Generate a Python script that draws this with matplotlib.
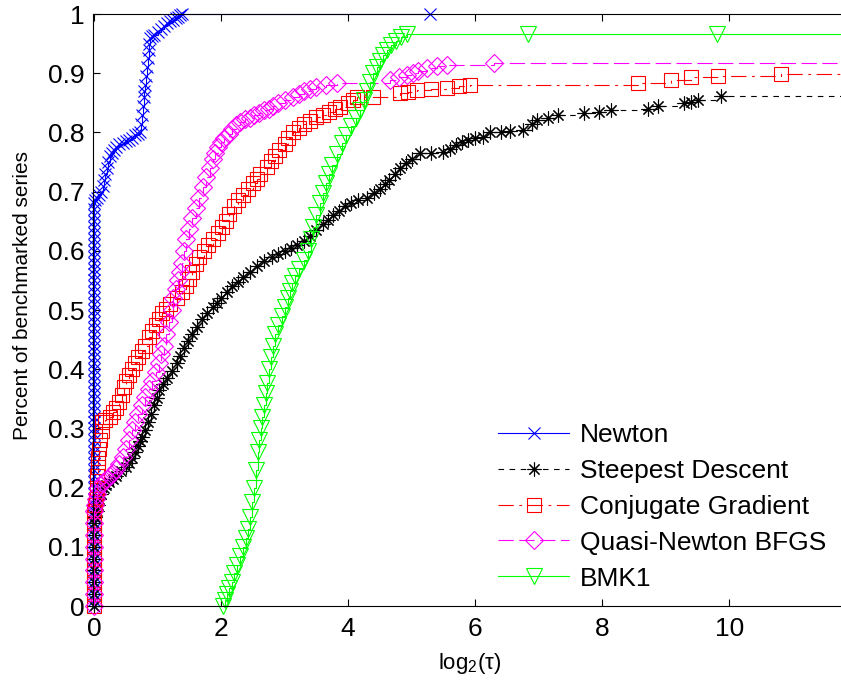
import matplotlib
matplotlib.use('Agg')
import matplotlib.pyplot as plt

plt.rcParams['font.family'] = 'Liberation Sans'
plt.rcParams['mathtext.fontset'] = 'custom'
plt.rcParams['mathtext.rm'] = 'Liberation Sans'
plt.rcParams['lines.scale_dashes'] = False

# ---- data (x = log2(tau), y = fraction) ----
newton_x = [0, 0, 0, 0, 0, 0, 0, 0, 0, 0, 0, 0, 0, 0, 0, 0, 0, 0, 0, 0, 0, 0, 0,
            0, 0, 0, 0, 0, 0, 0, 0, 0, 0, 0, 0, 0, 0, 0, 0, 0, 0, 0, 0, 0, 0, 0,
            0, 0, 0, 0, 0, 0, 0, 0, 0, 0, 0, 0, 0, 0, 0, 0, 0, 0, 0, 0, 0, 0, 0,
            0.02, 0.05, 0.08, 0.11, 0.14, 0.16, 0.18, 0.20, 0.22, 0.25, 0.28, 0.31, 0.35, 0.40,
            0.45, 0.50, 0.55, 0.60, 0.65, 0.69, 0.72, 0.74, 0.76, 0.77, 0.78, 0.79, 0.80, 0.82,
            0.83, 0.85, 0.86, 0.87, 0.88, 0.92, 0.95, 1.00, 1.05, 1.10, 1.15, 1.20, 1.25, 1.29,
            1.32, 1.36, 1.39, 5.29]
newton_y = [0.00, 0.01, 0.02, 0.03, 0.04, 0.05, 0.06, 0.07, 0.08, 0.09, 0.10, 0.11, 0.12,
            0.13, 0.14, 0.15, 0.16, 0.17, 0.18, 0.19, 0.20, 0.21, 0.22, 0.23, 0.24, 0.25, 0.26,
            0.27, 0.28, 0.29, 0.30, 0.31, 0.32, 0.33, 0.34, 0.35, 0.36, 0.37, 0.38, 0.39, 0.40,
            0.41, 0.42, 0.43, 0.44, 0.45, 0.46, 0.47, 0.48, 0.49, 0.50, 0.51, 0.52, 0.53, 0.54,
            0.55, 0.56, 0.57, 0.58, 0.59, 0.60, 0.61, 0.62, 0.63, 0.64, 0.65, 0.66, 0.67, 0.68,
            0.685, 0.69, 0.695, 0.70, 0.71, 0.72, 0.73, 0.74, 0.75, 0.76, 0.765, 0.77, 0.775, 0.78,
            0.782, 0.785, 0.788, 0.79, 0.795, 0.798, 0.80, 0.815, 0.83, 0.845, 0.86, 0.87, 0.88, 0.895,
            0.91, 0.925, 0.94, 0.95, 0.96, 0.962, 0.965, 0.97, 0.975, 0.98, 0.985, 0.988, 0.99, 0.993,
            0.995, 0.998, 1.0, 1.0]

steep_x = [0, 0, 0, 0, 0, 0, 0, 0,
           0.02, 0.04, 0.06, 0.08, 0.11, 0.15, 0.19, 0.24, 0.30, 0.35, 0.42, 0.50, 0.55, 0.60,
           0.65, 0.70, 0.73, 0.76, 0.80, 0.85, 0.90, 0.95, 0.99, 1.03, 1.09, 1.15, 1.22, 1.30,
           1.36, 1.42, 1.48, 1.55, 1.62, 1.70, 1.78, 1.87, 1.93, 2.00, 2.09, 2.18, 2.26, 2.35,
           2.45, 2.56, 2.68, 2.80, 2.90, 3.00, 3.10, 3.20, 3.30, 3.40, 3.50, 3.60, 3.68, 3.76,
           3.85, 3.95, 4.05, 4.15, 4.30, 4.40, 4.50, 4.58, 4.65, 4.74, 4.82, 4.91, 5.00, 5.13,
           5.30, 5.50, 5.60, 5.70, 5.80, 5.88, 6.00, 6.13, 6.24, 6.40, 6.55, 6.76, 6.90, 6.98,
           7.15, 7.30, 7.71, 7.95, 8.14, 8.72, 8.88, 9.29, 9.40, 9.51, 9.87, 12.5]
steep_y = [0.00, 0.02, 0.04, 0.06, 0.08, 0.10, 0.12, 0.14,
           0.15, 0.16, 0.17, 0.18, 0.19, 0.20, 0.205, 0.21, 0.215, 0.22, 0.228, 0.235, 0.242, 0.25,
           0.26, 0.27, 0.278, 0.285, 0.297, 0.31, 0.325, 0.34, 0.352, 0.365, 0.375, 0.385, 0.397, 0.41,
           0.422, 0.435, 0.447, 0.46, 0.472, 0.485, 0.495, 0.505, 0.512, 0.52, 0.53, 0.54, 0.548, 0.555,
           0.565, 0.575, 0.582, 0.59, 0.595, 0.60, 0.605, 0.61, 0.617, 0.625, 0.635, 0.645, 0.652, 0.66,
           0.668, 0.675, 0.68, 0.685, 0.69, 0.697, 0.705, 0.712, 0.72, 0.73, 0.74, 0.748, 0.755, 0.765,
           0.766, 0.767, 0.772, 0.778, 0.783, 0.787, 0.79, 0.793, 0.80, 0.80, 0.802, 0.804, 0.815, 0.821,
           0.825, 0.829, 0.832, 0.835, 0.838, 0.84, 0.845, 0.85, 0.852, 0.855, 0.862, 0.862]

cg_x = [0, 0, 0, 0, 0, 0, 0, 0, 0,
        0.02, 0.03, 0.04, 0.05, 0.055, 0.06, 0.08, 0.10, 0.12, 0.13, 0.18, 0.25, 0.30, 0.35, 0.40,
        0.44, 0.47, 0.51, 0.55, 0.60, 0.65, 0.70, 0.75, 0.80, 0.87, 0.92, 0.97, 1.02, 1.07, 1.13,
        1.20, 1.30, 1.38, 1.45, 1.50, 1.55, 1.60, 1.66, 1.73, 1.80, 1.87, 1.95, 2.01, 2.07, 2.13,
        2.20, 2.27, 2.35, 2.42, 2.50, 2.56, 2.62, 2.72, 2.79, 2.85, 2.92, 3.00, 3.06, 3.13, 3.22,
        3.30, 3.40, 3.50, 3.60, 3.70, 3.80, 3.87, 4.00, 4.07, 4.14, 4.39, 4.82, 4.95, 5.09, 5.30,
        5.56, 5.75, 5.92, 8.56, 9.08, 9.40, 9.83, 10.82, 12.5]
cg_y = [0.00, 0.02, 0.04, 0.06, 0.08, 0.10, 0.12, 0.14, 0.16,
        0.17, 0.18, 0.20, 0.22, 0.235, 0.25, 0.265, 0.28, 0.295, 0.31, 0.315, 0.32, 0.327, 0.335, 0.345,
        0.357, 0.37, 0.38, 0.39, 0.40, 0.41, 0.42, 0.43, 0.44, 0.455, 0.465, 0.475, 0.485, 0.495, 0.502,
        0.51, 0.52, 0.53, 0.54, 0.552, 0.565, 0.577, 0.59, 0.60, 0.61, 0.62, 0.63, 0.64, 0.65, 0.662,
        0.675, 0.685, 0.695, 0.705, 0.715, 0.722, 0.73, 0.742, 0.751, 0.76, 0.77, 0.78, 0.79, 0.80, 0.808,
        0.815, 0.82, 0.826, 0.83, 0.835, 0.84, 0.843, 0.85, 0.855, 0.86, 0.86, 0.866, 0.869, 0.872, 0.873,
        0.875, 0.878, 0.88, 0.883, 0.889, 0.893, 0.895, 0.899, 0.899]

qn_x = [0, 0, 0, 0, 0, 0, 0, 0, 0,
        0.02, 0.03, 0.04, 0.06, 0.10, 0.13, 0.17, 0.20, 0.25, 0.30, 0.35, 0.40, 0.45, 0.50, 0.55,
        0.60, 0.65, 0.70, 0.75, 0.80, 0.86, 0.92, 0.97, 1.02, 1.06, 1.10, 1.14, 1.18, 1.22, 1.25,
        1.29, 1.32, 1.35, 1.38, 1.41, 1.45, 1.50, 1.55, 1.60, 1.65, 1.71, 1.77, 1.82, 1.87, 1.91,
        1.95, 2.00, 2.05, 2.12, 2.18, 2.24, 2.30, 2.38, 2.45, 2.52, 2.60, 2.68, 2.75, 2.82, 2.90,
        3.00, 3.13, 3.22, 3.30, 3.40, 3.50, 3.65, 3.82, 4.66, 4.80, 4.93, 5.02, 5.10, 5.24, 5.40,
        5.56, 6.29, 12.5]
qn_y = [0.00, 0.02, 0.04, 0.06, 0.08, 0.10, 0.12, 0.14, 0.16,
        0.17, 0.18, 0.19, 0.20, 0.205, 0.208, 0.212, 0.215, 0.22, 0.225, 0.232, 0.24, 0.252, 0.265, 0.28,
        0.297, 0.31, 0.325, 0.34, 0.353, 0.367, 0.38, 0.395, 0.41, 0.425, 0.44, 0.46, 0.48, 0.50, 0.52,
        0.535, 0.55, 0.565, 0.58, 0.60, 0.62, 0.637, 0.655, 0.672, 0.69, 0.707, 0.725, 0.74, 0.755, 0.765,
        0.775, 0.783, 0.79, 0.798, 0.805, 0.812, 0.818, 0.822, 0.825, 0.829, 0.833, 0.837, 0.84, 0.845, 0.85,
        0.855, 0.86, 0.865, 0.87, 0.874, 0.877, 0.88, 0.883, 0.889, 0.893, 0.897, 0.90, 0.903, 0.909, 0.912,
        0.914, 0.917, 0.918]

bmk_x = [2.03, 2.06, 2.10, 2.13, 2.17, 2.21, 2.25, 2.30, 2.35, 2.39, 2.43, 2.46, 2.49, 2.52, 2.55,
         2.58, 2.60, 2.63, 2.65, 2.68, 2.70, 2.72, 2.75, 2.78, 2.81, 2.85, 2.90, 2.96, 3.00, 3.05,
         3.08, 3.12, 3.17, 3.22, 3.30, 3.37, 3.41, 3.45, 3.50, 3.55, 3.60, 3.65, 3.70, 3.75, 3.82,
         3.90, 3.97, 4.05, 4.12, 4.19, 4.25, 4.30, 4.35, 4.39, 4.45, 4.50, 4.55, 4.61, 4.68, 4.75,
         4.84, 4.93, 6.84, 9.80, 12.5]
bmk_y = [0.00, 0.01, 0.02, 0.03, 0.04, 0.055, 0.07, 0.085, 0.10, 0.115, 0.13, 0.15, 0.175, 0.20, 0.23,
         0.26, 0.28, 0.30, 0.32, 0.34, 0.36, 0.377, 0.40, 0.42, 0.44, 0.46, 0.475, 0.49, 0.505, 0.52,
         0.532, 0.545, 0.557, 0.57, 0.585, 0.60, 0.62, 0.64, 0.66, 0.68, 0.697, 0.714, 0.73, 0.745, 0.763,
         0.782, 0.796, 0.81, 0.824, 0.838, 0.855, 0.87, 0.885, 0.90, 0.91, 0.92, 0.93, 0.939, 0.947, 0.955,
         0.961, 0.966, 0.966, 0.966, 0.966]

labels = ['Newton', 'Steepest Descent', 'Conjugate Gradient', 'Quasi-Newton BFGS', 'BMK1']
xticks = [0, 2, 4, 6, 8, 10]
yticks = [0, 0.1, 0.2, 0.3, 0.4, 0.5, 0.6, 0.7, 0.8, 0.9, 1]
ytick_labels = ['0', '0.1', '0.2', '0.3', '0.4', '0.5', '0.6', '0.7', '0.8', '0.9', '1']

fig = plt.figure(figsize=(8.41, 6.81), dpi=100)
ax = fig.add_axes([93 / 841, 75 / 681, 748 / 841, 592 / 681])

common = dict(drawstyle='steps-post', lw=0.8, mew=0.8, mfc='none', clip_on=False)

ax.plot(newton_x, newton_y, color='#0000ff', ls='-', marker='x', ms=9,
        label=labels[0], **common)
ax.plot(steep_x, steep_y, color='black', ls=(0, (4, 4)), marker=(8, 2, 0), ms=10,
        markevery=slice(0, len(steep_x) - 1), label=labels[1], **common)
ax.plot(cg_x, cg_y, color='#ff0000', ls=(0, (11, 4, 2, 4)), marker='s', ms=10.5,
        markevery=slice(0, len(cg_x) - 1), label=labels[2], **common)
ax.plot(qn_x, qn_y, color='#ff00ff', ls=(0, (11, 4)), marker='D', ms=9.5,
        markevery=slice(0, len(qn_x) - 1), label=labels[3], **common)
ax.plot(bmk_x, bmk_y, color='#00ff00', ls='-', marker='v', ms=12,
        markevery=slice(0, len(bmk_x) - 1), label=labels[4], **common)

ax.set_xlim(-0.016, 11.76)
ax.set_ylim(0, 1)
ax.set_xticks(xticks)
ax.set_yticks(yticks)
ax.set_yticklabels(ytick_labels)
ax.tick_params(direction='in', length=5, width=0.8, top=True, right=False, labelsize=19)
ax.tick_params(axis='x', pad=8)
ax.tick_params(axis='y', pad=6)
ax.spines['right'].set_visible(False)

ax.set_ylabel('Percent of benchmarked series', fontsize=15)
ax.yaxis.set_label_coords(-0.0816, 0.524)
ax.set_xlabel('log$_2$(τ)', fontsize=16)
ax.xaxis.set_label_coords(0.504, -0.076)
ax.xaxis.label.set_va('top')

ax.legend(loc='upper left', bbox_to_anchor=(0.5414, 0.309), frameon=False, fontsize=19,
          handlelength=2.7, handletextpad=0.4, labelspacing=0.45, borderaxespad=0, borderpad=0)

fig.savefig('out.png', dpi=100)
